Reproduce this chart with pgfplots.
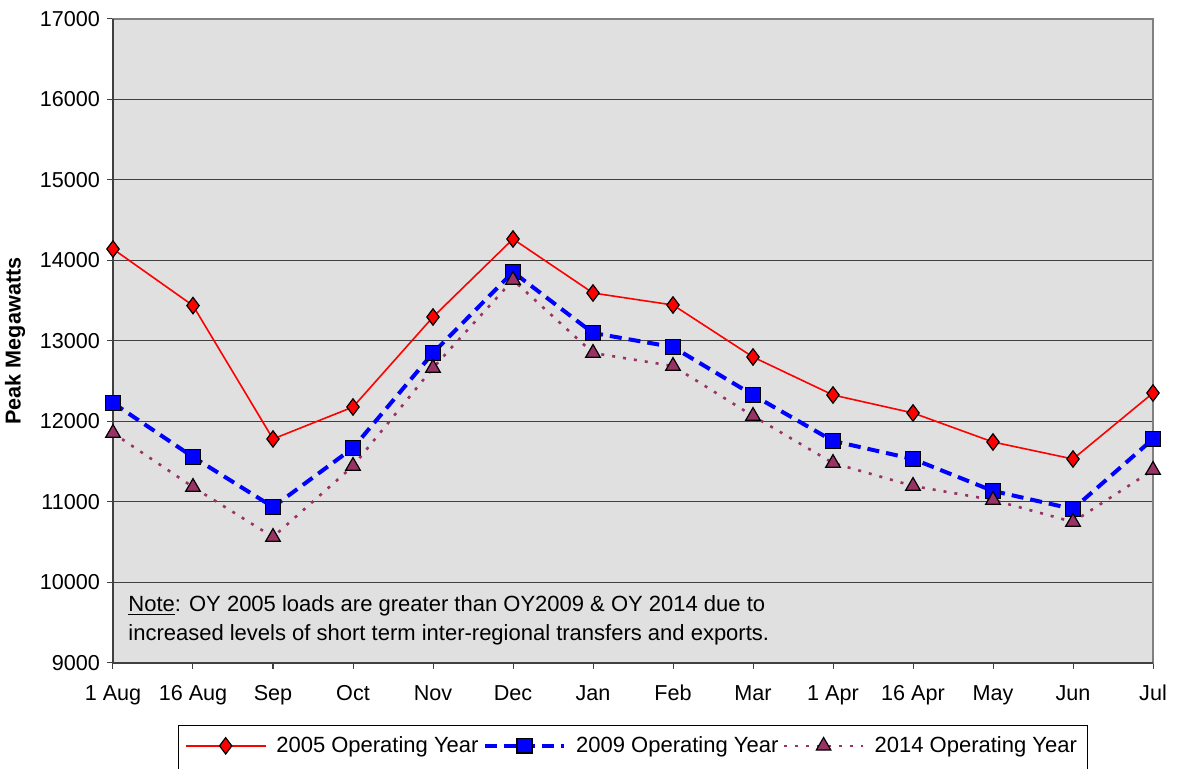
\documentclass[border=0pt]{standalone}
\usepackage{fontspec}
\setmainfont{Liberation Sans}
\usepackage{pgfplots}
\pgfplotsset{compat=1.18}
\definecolor{plotbg}{RGB}{224,224,224}
\definecolor{plum}{RGB}{153,51,102}
\begin{document}
\begin{tikzpicture}
\begin{axis}[
  scale only axis,
  width=520pt, height=322pt,
  xmin=0, xmax=13,
  ymin=9000, ymax=17000,
  xtick={0,...,13},
  xticklabels={1 Aug,16 Aug,Sep,Oct,Nov,Dec,Jan,Feb,Mar,1 Apr,16 Apr,May,Jun,Jul},
  ytick={9000,10000,...,17000},
  scaled y ticks=false,
  /pgf/number format/assume math mode=true,
  /pgf/number format/set thousands separator={},
  tick label style={font=\fontsize{10.8}{13}\selectfont},
  tick align=outside,
  major tick length=3pt,
  tick style={black!75, line width=0.5pt},
  xtick pos=bottom, ytick pos=left,
  ymajorgrids,
  major grid style={black!75, line width=0.5pt},
  axis background/.style={fill=plotbg},
  axis line style={draw=gray, line width=0.8pt},
  ylabel={\bfseries Peak Megawatts},
  every axis y label/.style={at={(rel axis cs:0,0.5)}, xshift=-49pt, rotate=90, anchor=center,
    font=\fontsize{10.8}{13}\selectfont},
  xticklabel style={anchor=north, text height=8pt, text depth=2pt, yshift=-4pt},
  legend columns=3,
  legend style={name=leg, at={(rel axis cs:0.5,0)}, anchor=north, yshift=-31.5pt,
    draw=none, fill=white,
    font=\fontsize{11}{13}\selectfont,
    inner xsep=3pt, inner ysep=3pt,
    /tikz/every even column/.append style={column sep=0pt},
    /tikz/every odd column/.append style={column sep=3pt}},
  legend image code/.code={\draw[mark repeat=2,mark phase=2] plot coordinates {(0cm,0cm)(0.7cm,0cm)(1.4cm,0cm)};},
  clip=false,
]
\addplot[red, line width=0.8pt, mark=diamond*, mark size=4.1pt,
  mark options={solid, fill=red, draw=black, line width=0.6pt}]
  coordinates {(0,14143)(1,13440)(2,11783)(3,12180)(4,13298)(5,14267)(6,13596)(7,13447)(8,12801)(9,12329)(10,12106)(11,11745)(12,11534)(13,12354)};
\addlegendentry{2005 Operating Year}
\addplot[blue, line width=2pt, dash pattern=on 6pt off 3.5pt, mark=square*, mark size=3.7pt,
  mark options={solid, fill=blue, draw=black, line width=0.8pt}]
  coordinates {(0,12230)(1,11559)(2,10938)(3,11671)(4,12851)(5,13857)(6,13099)(7,12925)(8,12329)(9,11758)(10,11534)(11,11137)(12,10913)(13,11783)};
\addlegendentry{2009 Operating Year}
\addplot[plum, line width=1.3pt, dash pattern=on 1.5pt off 4pt, mark=triangle*, mark size=4.2pt,
  mark options={solid, fill=plum, draw=black, line width=0.6pt}]
  coordinates {(0,11857)(1,11186)(2,10565)(3,11447)(4,12665)(5,13758)(6,12851)(7,12689)(8,12068)(9,11484)(10,11199)(11,11025)(12,10752)(13,11398)};
\addlegendentry{2014 Operating Year}
\draw[black!75, line width=1pt] (rel axis cs:0,1) -- (rel axis cs:0,0) -- (rel axis cs:1,0);
\node[anchor=north west, align=left, font=\fontsize{11}{14.5}\selectfont, inner sep=0pt]
  at ([shift={(7.5pt,-6.5pt)}]axis cs:0,10000)
  {\underline{Note}: OY 2005 loads are greater than OY2009 \& OY 2014 due to\\increased levels of short term inter-regional transfers and exports.};
\coordinate (bl) at (rel axis cs:0,0);
\coordinate (tr) at (rel axis cs:1,1);
\end{axis}
\draw[black, line width=0.5pt] ([yshift=-20pt]leg.south west) |- (leg.north east) -- ([yshift=-20pt]leg.south east);
\pgfresetboundingbox
\path ([shift={(-56.5pt,-53pt)}]bl) rectangle ([shift={(12.5pt,9.5pt)}]tr);
\end{tikzpicture}
\end{document}
